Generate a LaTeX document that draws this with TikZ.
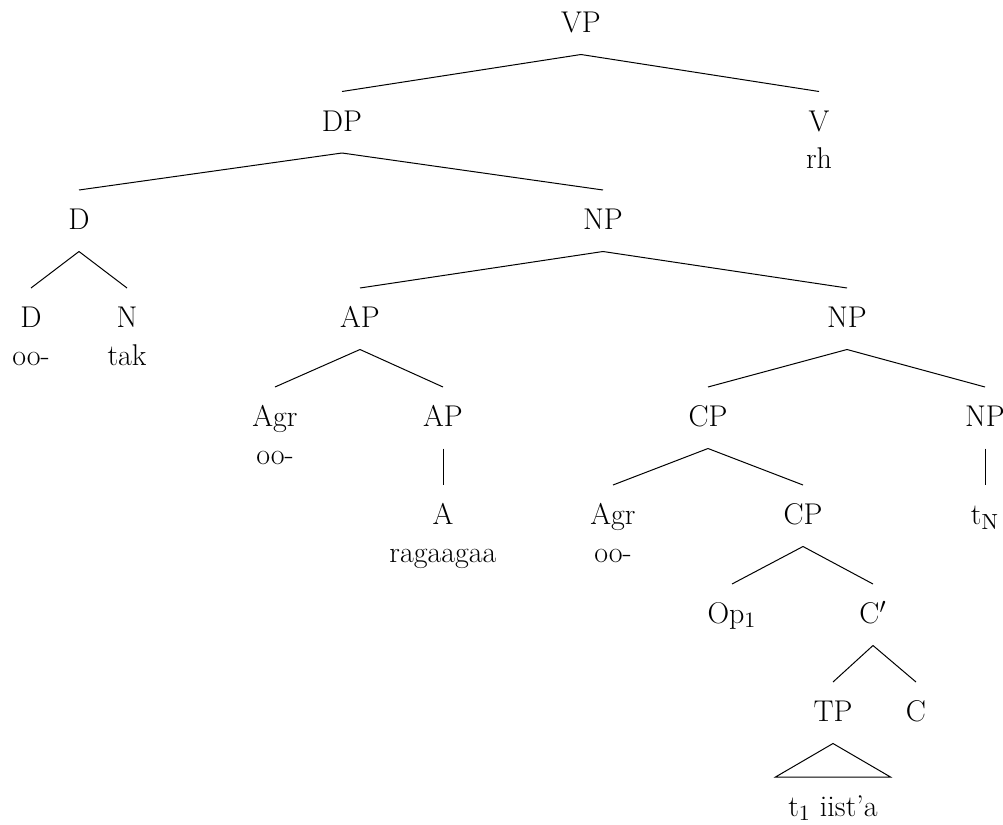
\documentclass[tikz,border=0pt]{standalone}
\usepackage{tikz}
\usetikzlibrary{positioning}

\begin{document}
\begin{tikzpicture}[x=0.5pt,y=-0.5pt,line width=0.5pt,
    cat/.style={anchor=base, text height=11pt, text depth=2.25pt,
      inner xsep=0pt, inner ysep=8.5pt},
    word/.style={anchor=base, inner sep=0pt}
  ]
  \fontsize{15}{18}\selectfont
  \useasboundingbox (0,0) rectangle (1003,825);
  % categories
  \node[cat] (vp)   at (581,32.5)  {VP};
  \node[cat] (dp)   at (342,131)   {DP};
  \node[cat] (v)    at (819,131)   {V};
  \node[cat] (d)    at (79,229.5)  {D};
  \node[cat] (np)   at (603,229.5) {NP};
  \node[cat] (dd)   at (31,327.5)  {D};
  \node[cat] (n)    at (127,327.5) {N};
  \node[cat] (ap)   at (360,327.5) {AP};
  \node[cat] (npa)  at (847,327.5) {NP};
  \node[cat] (agr)  at (275,426.5) {Agr};
  \node[cat] (apa)  at (443,426.5) {AP};
  \node[cat] (cp)   at (708,426.5) {CP};
  \node[cat] (npb)  at (985,426.5) {NP};
  \node[cat] (a)    at (443,524.5) {A};
  \node[cat] (agrb) at (613,524.5) {Agr};
  \node[cat] (cpa)  at (803,524.5) {CP};
  \node[cat] (tn)   at (985,524.5) {t$_\mathrm{N}$};
  \node[cat] (op)   at (732,623.5) {Op$_1$};
  \node[cat] (cbar) at (873,623.5) {C$'$};
  \node[cat] (tp)   at (833,721.5) {TP};
  \node[cat] (c)    at (916,721.5) {C};
  \node[cat] (tri)  at (833,816.5) {t$_1$ iist'a};
  % words
  \node[word] (wv)   at ([yshift=-18.75pt]v.base)    {rh};
  \node[word] (wdd)  at ([yshift=-18.75pt]dd.base)   {oo-};
  \node[word] (wn)   at ([yshift=-18.75pt]n.base)    {tak};
  \node[word] (wagr) at ([yshift=-18.75pt]agr.base)  {oo-};
  \node[word] (wa)   at ([yshift=-18.75pt]a.base)    {ragaagaa};
  \node[word] (wagb) at ([yshift=-18.75pt]agrb.base) {oo-};
  % branches
  \draw (vp.south) -- (dp.north);
  \draw (vp.south) -- (v.north);
  \draw (dp.south) -- (d.north);
  \draw (dp.south) -- (np.north);
  \draw (d.south) -- (dd.north);
  \draw (d.south) -- (n.north);
  \draw (np.south) -- (ap.north);
  \draw (np.south) -- (npa.north);
  \draw (ap.south) -- (agr.north);
  \draw (ap.south) -- (apa.north);
  \draw (apa.south) -- (a.north);
  \draw (npa.south) -- (cp.north);
  \draw (npa.south) -- (npb.north);
  \draw (npb.south) -- (tn.north);
  \draw (cp.south) -- (agrb.north);
  \draw (cp.south) -- (cpa.north);
  \draw (cpa.south) -- (op.north);
  \draw (cpa.south) -- (cbar.north);
  \draw (cbar.south) -- (tp.north);
  \draw (cbar.south) -- (c.north);
  % roof
  \draw (tp.south) -- ([xshift=-28.75pt]tri.north)
    -- ([xshift=28.75pt]tri.north) -- cycle;
\end{tikzpicture}
\end{document}
